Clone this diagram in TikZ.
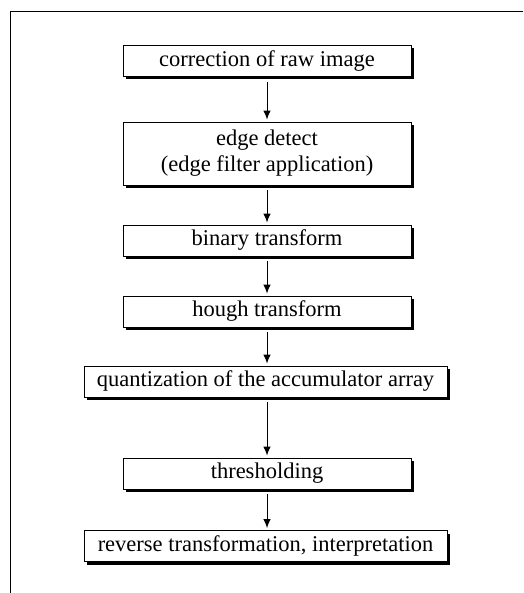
\documentclass[tikz,border=0pt]{standalone}
\usepackage{fontspec}
\setmainfont{Liberation Serif}
\usepackage{tikz}
\usetikzlibrary{arrows.meta,shadows,positioning}
\tikzset{
  procbox/.style={
    rectangle,
    draw=black, line width=0.9pt,
    fill=white,
    minimum width=288pt,
    minimum height=31pt,
    inner sep=0pt,
    align=center,
    font=\fontsize{22.5}{26}\selectfont,
    drop shadow={shadow xshift=3pt, shadow yshift=-3pt, fill=black, opacity=1}},
  widebox/.style={procbox, minimum width=363pt},
  line/.style={draw, line width=1pt, -{Latex[length=9pt,width=7.5pt]},
    shorten <=5pt, shorten >=2pt}
}
\begin{document}
\begin{tikzpicture}[x=1pt, y=-1pt]
    \useasboundingbox (0,0) rectangle (523,593);
    % frame
    \draw[line width=1pt] (10,593) -- (10,12) -- (523,12);

    \node[procbox] (corr) at (267,61) {correction of raw image};
    \node[procbox, minimum height=63pt] (edge) at (267,153.5)
        {edge detect\\(edge filter application)};
    \node[procbox] (bin) at (267,240.5) {binary transform};
    \node[procbox] (hough) at (267,311.5) {hough transform};
    \node[widebox] (quant) at (265.5,381.5) {quantization of the accumulator array};
    \node[procbox] (thres) at (267,473.5) {thresholding};
    \node[widebox] (rev) at (265.5,546) {reverse transformation, interpretation};

    \draw[line] (corr) -- (edge);
    \draw[line] (edge) -- (bin);
    \draw[line] (bin) -- (hough);
    \draw[line] (hough) -- (quant.north -| hough);
    \draw[line] (quant.south -| thres) -- (thres);
    \draw[line] (thres) -- (rev.north -| thres);
\end{tikzpicture}
\end{document}
